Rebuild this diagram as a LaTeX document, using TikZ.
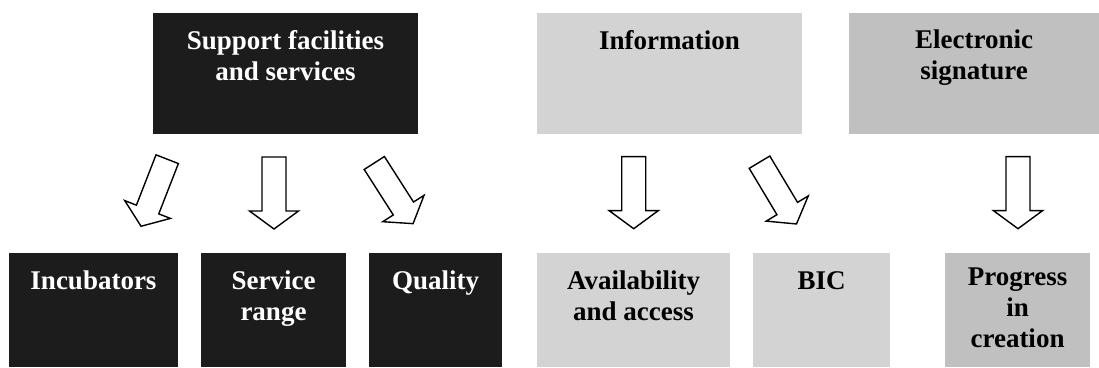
\documentclass[tikz,border=0pt]{standalone}
\usepackage{fontspec}
\setmainfont{Liberation Serif}
\definecolor{boxdark}{HTML}{1C1C1C}
\definecolor{boxlight}{HTML}{D3D3D3}
\definecolor{boxmid}{HTML}{C0C0C0}
\begin{document}
\begin{tikzpicture}[x=1pt,y=1pt,
  box/.style={draw=none, inner sep=0pt, outer sep=0pt, anchor=north west},
  darkbox/.style={box, fill=boxdark},
  lightbox/.style={box, fill=boxlight},
  midbox/.style={box, fill=boxmid},
  toprow/.style={minimum height=121pt},
  botrow/.style={minimum height=114pt},
  lbl/.style={anchor=north, inner sep=0pt, align=center,
    font=\fontsize{27}{31}\selectfont\bfseries, execute at begin node=\strut},
  lblw/.style={lbl, text=white},
  arrowline/.style={draw=black, fill=white, line width=1.4pt, line join=miter},
  blockarrow/.pic={\path[arrowline] (0,-12) -- (54,-12) -- (54,-24.5) -- (72,0)
     -- (54,24.5) -- (54,12) -- (0,12) -- cycle;}
]
\path[use as bounding box, fill=white] (0,0) rectangle (1099,367);

% top row
\node[darkbox, toprow, minimum width=265pt] (sup) at (153,354) {};
\node[lightbox, toprow, minimum width=265pt] (inf) at (537,354) {};
\node[midbox, toprow, minimum width=250pt] (els) at (849,354) {};

% bottom row
\node[darkbox, botrow, minimum width=169pt] (inc) at (9,114) {};
\node[darkbox, botrow, minimum width=145pt] (srv) at (201,114) {};
\node[darkbox, botrow, minimum width=133pt] (qua) at (369,114) {};
\node[lightbox, botrow, minimum width=193pt] (ava) at (537,114) {};
\node[lightbox, botrow, minimum width=137pt] (bic) at (753,114) {};
\node[midbox, botrow, minimum width=145pt] (prg) at (945,114) {};

% labels
\node[lblw] (supl) at ([yshift=-17pt]sup.north) {Support facilities\\and services};
\node[lbl] (infl) at ([yshift=-15pt]inf.north) {Information};
\node[lbl] (elsl) at ([yshift=-17pt]els.north) {Electronic\\signature};
\node[lblw] (incl) at ([yshift=-15pt]inc.north) {Incubators};
\node[lblw] (srvl) at ([yshift=-18pt]srv.north) {Service\\range};
\node[lblw] (qual) at ([yshift=-15pt]qua.north) {Quality};
\node[lbl] (aval) at ([yshift=-18pt]ava.north) {Availability\\and access};
\node[lbl] (bicl) at ([yshift=-15pt]bic.north) {BIC};
\node[lbl] (prgl) at ([yshift=-15pt]prg.north) {Progress\\in\\creation};

% block arrows
\pic[rotate=-111.3] at (167.2,207.8) {blockarrow};
\pic[rotate=-90] at (274,210) {blockarrow};
\pic[rotate=-57.4] at (374.3,204) {blockarrow};
\pic[rotate=-90] at (633.7,210.3) {blockarrow};
\pic[rotate=-59.1] at (759.5,204.8) {blockarrow};
\pic[rotate=-90] at (1018,210.3) {blockarrow};
\end{tikzpicture}
\end{document}
